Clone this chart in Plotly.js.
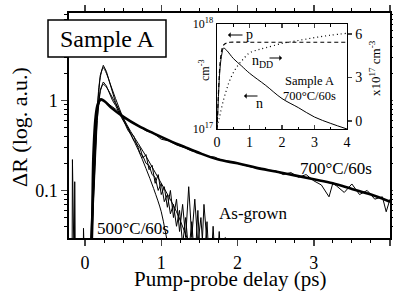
<!DOCTYPE html>
<html><head><meta charset="utf-8">
<script src="https://cdn.plot.ly/plotly-3.0.1.min.js"></script>
<style>html,body{margin:0;padding:0;background:#fff}#chart{width:393px;height:295px}</style>
</head><body><div id="chart"></div>
<script>
// ---- main panel data (delay in ps, dR in log a.u.) ----
const agT = [-0.2,-0.17,-0.165,-0.16,-0.155,-0.14,-0.135,-0.13,-0.125,-0.1,-0.05,-0.025,-0.02,-0.015,0.0,0.04,0.08,0.12,0.16,0.20,0.24,0.28,0.32,0.36,0.40,0.44,0.48,0.52,0.56,0.60,0.64,0.68,0.72,0.76,0.80,0.84,0.88,0.92,0.96,1.00,1.04,1.08,1.12,1.16,1.20,1.24,1.28,1.32,1.36,1.40,1.44,1.48,1.52,1.56,1.60,1.64,1.68,1.72,1.76,1.80,1.84,1.88];
const agR = [0.01,0.01,0.22,0.01,0.01,0.01,0.125,0.01,0.01,0.01,0.01,0.01,0.038,0.01,0.01,0.012,0.02,0.15,0.8,1.9,2.45,2.1,1.6,1.2,0.95,0.8,0.66,0.55,0.47,0.42,0.36,0.33,0.26,0.24,0.2,0.19,0.15,0.14,0.1,0.12,0.075,0.09,0.055,0.07,0.04,0.06,0.025,0.05,0.02,0.045,0.015,0.06,0.012,0.07,0.02,0.01,0.04,0.01,0.035,0.01,0.03,0.01];
const agFitT = [0.08,0.12,0.16,0.2,0.24,0.28,0.34,0.4,0.5,0.6,0.7,0.8,0.9,1.0,1.05,1.1];
const agFitR = [0.02,0.15,0.8,1.8,2.3,2.0,1.45,1.05,0.64,0.42,0.28,0.175,0.105,0.058,0.036,0.022];
const s500T = [0.0,0.04,0.08,0.12,0.16,0.20,0.24,0.28,0.32,0.36,0.40,0.44,0.48,0.52,0.56,0.60,0.64,0.68,0.72,0.76,0.80,0.84,0.88,0.92,0.96,1.00,1.04,1.08,1.12,1.16,1.20,1.24,1.28,1.32,1.36,1.40,1.44,1.48,1.52,1.56,1.60,1.64,1.68,1.72];
const s500R = [0.01,0.01,0.018,0.12,0.6,1.3,1.6,1.45,1.2,1.0,0.88,0.74,0.64,0.56,0.5,0.43,0.4,0.32,0.3,0.23,0.25,0.17,0.19,0.12,0.15,0.09,0.11,0.065,0.1,0.05,0.08,0.035,0.07,0.03,0.11,0.03,0.08,0.025,0.05,0.015,0.045,0.01,0.03,0.01];
const s500FitT = [0.08,0.12,0.16,0.2,0.24,0.28,0.34,0.4,0.5,0.6,0.7,0.8,0.9,1.0,1.1,1.2,1.3,1.35];
const s500FitR = [0.018,0.12,0.6,1.25,1.5,1.4,1.15,0.92,0.64,0.45,0.33,0.24,0.17,0.12,0.085,0.058,0.036,0.028];
const s700T = [0,0.05,0.1,0.15,0.2,0.25,0.3,0.4,0.5,0.6,0.7,0.8,0.9,1.0,1.1,1.2,1.3,1.4,1.5,1.6,1.7,1.8,1.9,2.0,2.1,2.2,2.3,2.4,2.5,2.6,2.7,2.8,2.9,3.0,3.1,3.2,3.25,3.3,3.4,3.5,3.6,3.7,3.8,3.9,3.95,4.0];
const s700R = [0.008,0.01,0.1,0.75,1.0,0.98,0.92,0.8,0.67,0.58,0.52,0.46,0.43,0.37,0.355,0.32,0.3,0.275,0.265,0.24,0.235,0.215,0.21,0.2,0.19,0.18,0.176,0.168,0.165,0.15,0.158,0.14,0.15,0.128,0.115,0.085,0.12,0.112,0.095,0.118,0.09,0.1,0.08,0.085,0.058,0.08];
const s700FitT = [0.06,0.09,0.11,0.14,0.17,0.21,0.26,0.35,0.5,0.7,0.9,1.1,1.3,1.5,1.75,2.0,2.25,2.5,2.75,3.0,3.25,3.5,3.75,4.0];
const s700FitR = [0.01,0.03,0.24,0.66,0.92,1.03,0.97,0.82,0.66,0.52,0.43,0.36,0.305,0.26,0.22,0.2,0.178,0.162,0.147,0.133,0.12,0.104,0.09,0.075];
const mainXTicks = [0,1,2,3,4];
const mainYTicks = [0.1,1];
const mainYTickText = ['0.1','1'];

// ---- inset data (ps, cm^-3 ; nDD in 1e17 cm^-3) ----
const insT_n = [0,0.03,0.06,0.1,0.15,0.2,0.3,0.5,0.75,1.0,1.5,2.0,2.5,3.0,3.5,4.0];
const insN = [1e17,1.6e17,2.6e17,4.0e17,5.2e17,5.9e17,5.6e17,4.7e17,4.0e17,3.4e17,2.6e17,1.95e17,1.6e17,1.3e17,1.13e17,1.0e17];
const insT_p = [0,0.03,0.06,0.1,0.15,0.2,0.3,0.4,1.0,2.0,3.0,4.0];
const insP = [1e17,1.7e17,2.8e17,4.4e17,5.7e17,6.3e17,6.6e17,6.7e17,6.7e17,6.7e17,6.7e17,6.7e17];
const insT_dd = [0,0.05,0.1,0.2,0.3,0.4,0.6,0.8,1.0,1.25,1.5,2.0,2.5,3.0,3.5,4.0];
const insDD = [-0.4,0.0,0.5,1.45,2.2,2.85,3.7,4.25,4.7,4.9,5.05,5.35,5.55,5.75,5.92,6.05];
const insXTicks = [0,1,2,3,4];
const insYTicks = [1e17,1e18];
const insYTickText = ['10<sup>17</sup>','10<sup>18</sup>'];
const insY2Ticks = [0,3,6];

const FONT = '"Liberation Serif", "Times New Roman", Times, serif';
const K = '#000';
function ln(x,y,w,extra){return Object.assign({x:x,y:y,mode:'lines',line:{color:K,width:w},hoverinfo:'skip',showlegend:false},extra||{});}

const traces = [
  ln(agT,agR,1),
  ln(agFitT,agFitR,1,{line:{color:K,width:1,shape:'spline'}}),
  ln(s500T,s500R,1),
  ln(s500FitT,s500FitR,1,{line:{color:K,width:1,shape:'spline'}}),
  ln(s700T,s700R,1),
  ln(s700FitT,s700FitR,2.6,{line:{color:K,width:2.6,shape:'spline'}}),
  ln(insT_n,insN,1,{xaxis:'x2',yaxis:'y2',line:{color:K,width:1,shape:'spline'}}),
  ln(insT_p,insP,1.2,{xaxis:'x2',yaxis:'y2',line:{color:K,width:1.2,dash:'4px,3px',shape:'spline'}}),
  ln(insT_dd,insDD,1.2,{xaxis:'x2',yaxis:'y3',line:{color:K,width:1.2,dash:'1px,3px',shape:'spline'}})
];

// pixel -> paper helpers (plot area 69..390 x 13..238)
const px = v => (v-69)/321, py = v => (238-v)/225;
function txt(t,x,y,size,extra){return Object.assign({text:t,x:px(x),y:py(y),xref:'paper',yref:'paper',showarrow:false,xanchor:'center',yanchor:'middle',font:{family:FONT,size:size,color:K}},extra||{});}
function arr(xh,xt,y){return {text:'',x:px(xh),y:py(y),xref:'paper',yref:'paper',showarrow:true,ax:xt-xh,ay:0,arrowhead:1,arrowsize:0.9,arrowwidth:1,arrowcolor:K,standoff:0,startstandoff:0};}

const layout = {
  width:393,height:295,
  margin:{l:69,r:3,t:13,b:57},
  paper_bgcolor:'#fff',plot_bgcolor:'#fff',
  font:{family:FONT,color:K,size:18},
  showlegend:false,
  xaxis:{range:[-0.21,4.0],tickvals:mainXTicks,ticks:'outside',ticklen:6,tickwidth:1.5,linewidth:1.6,linecolor:K,showline:true,mirror:'ticks',showgrid:false,zeroline:false,tickfont:{family:FONT,size:18},ticklabelstandoff:2,
    minor:{dtick:0.25,tick0:0,ticks:'outside',ticklen:3,tickwidth:1,tickcolor:K,showgrid:false}},
  yaxis:{type:'log',range:[-1.528,0.97],tickvals:mainYTicks,ticktext:mainYTickText,ticks:'outside',ticklen:6,tickwidth:1.5,linewidth:1.6,linecolor:K,showline:true,mirror:'ticks',showgrid:false,zeroline:false,tickfont:{family:FONT,size:18},
    minor:{tickvals:[0.04,0.05,0.06,0.07,0.08,0.09,0.2,0.3,0.4,0.5,0.6,0.7,0.8,0.9,2,3,4,5,6,7,8,9],ticks:'outside',ticklen:3,tickwidth:1,tickcolor:K,showgrid:false}},
  xaxis2:{domain:[px(217),px(347)],anchor:'y2',range:[0,4],tickvals:insXTicks,ticks:'inside',ticklen:4,tickwidth:1.2,linewidth:1.4,linecolor:K,showline:true,mirror:'ticks',showgrid:false,zeroline:false,tickfont:{family:FONT,size:14},
    minor:{dtick:0.5,tick0:0,ticks:'inside',ticklen:2.5,tickwidth:1,tickcolor:K,showgrid:false}},
  yaxis2:{domain:[py(129),py(24)],anchor:'x2',type:'log',range:[17,18],tickvals:insYTicks,ticktext:insYTickText,ticks:'inside',ticklen:4,tickwidth:1.2,linewidth:1.4,linecolor:K,showline:true,showgrid:false,zeroline:false,tickfont:{family:FONT,size:12}},
  yaxis3:{overlaying:'y2',anchor:'x2',side:'right',range:[-0.55,6.69],tickvals:insY2Ticks,ticks:'outside',ticklen:4,tickwidth:1.2,linewidth:1.4,linecolor:K,showline:true,showgrid:false,zeroline:false,tickfont:{family:FONT,size:14}},
  shapes:[{type:'rect',xref:'paper',yref:'paper',x0:px(48),x1:px(166),y0:py(57),y1:py(20),fillcolor:'#fff',line:{color:K,width:1.5},layer:'above'}],
  annotations:[
    txt('ΔR (log. a.u.)',20,127,22,{textangle:-90}),
    txt('Pump-probe delay (ps)',230,279,21),
    txt('Sample A',107,39,24),
    txt('500°C/60s',133,228,17),
    txt('As-grown',253,213,17),
    txt('700°C/60s',336,168,17),
    txt('Sample A',309,81,12.5),
    txt('700°C/60s',309,96,12.5),
    txt('p',250,34,14),
    txt('n<sub>DD</sub>',262,61,14),
    txt('n',259,103,14),
    arr(228,244,35),
    arr(282,268,58),
    arr(244,259,96),
    txt('cm<sup>-3</sup>',204,70,12,{textangle:-90}),
    txt('x10<sup>17</sup> cm<sup>-3</sup>',375,68,13,{textangle:-90})
  ]
};
Plotly.newPlot('chart',traces,layout,{staticPlot:true,displayModeBar:false});
</script></body></html>
